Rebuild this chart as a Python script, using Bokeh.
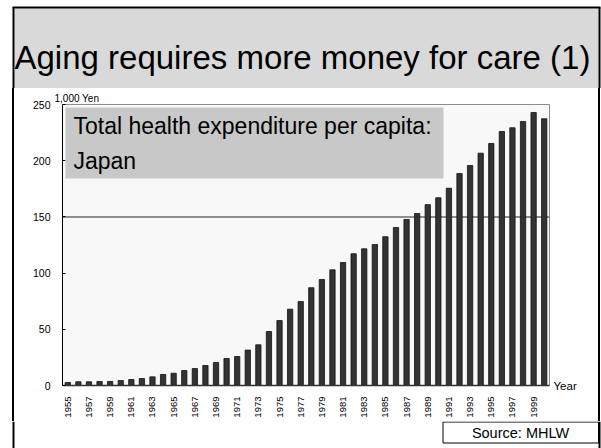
import math
from bokeh.plotting import figure
from bokeh.layouts import column
from bokeh.models import (Range1d, FixedTicker, Label, BoxAnnotation, Span, Title,
                          LinearAxis)
from bokeh.core.properties import value
from bokeh.embed import file_html
from bokeh.resources import INLINE

years = [1955, 1956, 1957, 1958, 1959, 1960, 1961, 1962, 1963, 1964,
         1965, 1966, 1967, 1968, 1969, 1970, 1971, 1972, 1973, 1974,
         1975, 1976, 1977, 1978, 1979, 1980, 1981, 1982, 1983, 1984,
         1985, 1986, 1987, 1988, 1989, 1990, 1991, 1992, 1993, 1994,
         1995, 1996, 1997, 1998, 1999, 2000]
expenditure = [2.7, 3.3, 3.3, 3.6, 3.6, 4.4, 5.3, 6.2, 7.7, 9.8,
               10.9, 13.3, 15.1, 17.8, 20.5, 24.0, 25.8, 31.5, 36.2, 48.0,
               57.8, 67.9, 74.7, 87.0, 94.3, 102.9, 109.4, 117.2, 121.6, 125.4,
               132.4, 140.6, 147.7, 153.0, 160.9, 167.0, 175.5, 188.6, 195.7, 206.7,
               215.3, 226.0, 229.3, 234.9, 242.9, 237.3]
x_tick_years = [1955, 1957, 1959, 1961, 1963, 1965, 1967, 1969, 1971, 1973, 1975,
                1977, 1979, 1981, 1983, 1985, 1987, 1989, 1991, 1993, 1995, 1997, 1999]
y_ticks = [0, 50, 100, 150, 200, 250]
reference_level = 150

title_text = "Aging requires more money for care (1)"
box_line1 = "Total health expenditure per capita:"
box_line2 = "Japan"
y_unit = "1,000 Yen"
x_unit = "Year"
source_text = "Source: MHLW"

FONT = "Liberation Sans"
BORDER = "black"


def blank(w, h):
    f = figure(width=w, height=h, output_backend="svg", toolbar_location=None,
               x_range=Range1d(0, w), y_range=Range1d(h, 0),
               x_axis_type=None, y_axis_type=None, min_border=0,
               frame_align=False)
    f.outline_line_color = None
    f.background_fill_color = "white"
    f.border_fill_color = "white"
    f.xgrid.visible = False
    f.ygrid.visible = False
    return f


# ---- top: title band ----
top = blank(601, 88)
top.quad(left=[14], right=[598], top=[8], bottom=[88], fill_color="#d9d9d9", line_color=None)
top.segment(x0=[12, 13, 599], y0=[7, 7, 7], x1=[600, 13, 599], y1=[7, 88, 88],
            line_color=BORDER, line_width=2)
top.text(x=[14], y=[57], text=[title_text], text_font=value(FONT), text_font_size="33px",
         text_color="black", text_baseline="middle", text_align="left")

# ---- chart ----
side_lines = ("linear-gradient(to right, white 0px, white 12px, black 12px, black 14px, "
              "white 14px, white 598px, black 598px, black 600px, white 600px)")
p = figure(width=601, height=333, output_backend="svg", toolbar_location=None,
           x_range=Range1d(years[0] - 0.5, years[-1] + 0.5),
           y_range=Range1d(0, 250),
           min_border_left=62, min_border_right=52,
           min_border_top=16, min_border_bottom=36,
           frame_align=False,
           styles={"background": side_lines})
p.background_fill_color = "#f8f8f8"
p.border_fill_alpha = 0
p.outline_line_color = "#8c8c8c"
p.outline_line_width = 1
p.xgrid.visible = False
p.ygrid.visible = False

p.add_layout(Span(location=reference_level, dimension="width",
                  line_color="#6a6a6a", line_width=1.5, level="underlay"))
p.vbar(x=years, top=expenditure, width=0.5, fill_color="#333333",
       line_color="#111111", line_width=0.8)

p.add_layout(BoxAnnotation(left=65, right=443, top=19, bottom=90,
                           left_units="canvas", right_units="canvas",
                           top_units="canvas", bottom_units="canvas",
                           fill_color="#c8c8c8", fill_alpha=1, line_color=None))
p.add_layout(Label(x=73, y=37, x_units="canvas", y_units="canvas",
                   text=box_line1, text_font=FONT, text_font_size="23px",
                   text_color="black", text_baseline="middle"))
p.add_layout(Label(x=73, y=72, x_units="canvas", y_units="canvas",
                   text=box_line2, text_font=FONT, text_font_size="23px",
                   text_color="black", text_baseline="middle"))

p.yaxis.ticker = FixedTicker(ticks=y_ticks)
p.yaxis.major_tick_in = 3
p.yaxis.major_tick_out = 0
p.yaxis.minor_tick_line_color = None
p.yaxis.axis_line_color = "black"
p.yaxis.major_tick_line_color = "black"
p.yaxis.major_label_standoff = 12
p.yaxis.major_label_text_font = FONT
p.yaxis.major_label_text_font_size = "10.5px"
p.yaxis.major_label_text_color = "black"

p.xaxis.ticker = FixedTicker(ticks=x_tick_years)
p.xaxis.major_label_orientation = math.pi / 2
p.xaxis.major_tick_in = 0
p.xaxis.major_tick_out = 0
p.xaxis.minor_tick_line_color = None
p.xaxis.axis_line_color = "#333333"
p.xaxis.axis_line_width = 1.5
p.xaxis.major_label_standoff = 11
p.xaxis.major_label_text_font = FONT
p.xaxis.major_label_text_font_size = "9.5px"
p.xaxis.major_label_text_color = "black"

# unit captions
p.add_layout(Title(text=y_unit, align="left", offset=-8, standoff=1,
                   text_font=FONT, text_font_size="10px", text_font_style="normal",
                   text_color="black"), "above")
year_axis = LinearAxis(ticker=FixedTicker(ticks=[0]), major_label_overrides={0: x_unit},
                       axis_line_color=None, major_tick_line_color=None,
                       minor_tick_line_color=None, major_tick_in=0, major_tick_out=0,
                       major_label_standoff=4, major_label_text_font=FONT,
                       major_label_text_font_size="11.5px", major_label_text_color="black")
p.add_layout(year_axis, "right")

# ---- bottom: source ----
bottom = blank(601, 27)
bottom.segment(x0=[13, 599], y0=[0, 0], x1=[13, 599], y1=[27, 27],
               line_color=BORDER, line_width=2)
bottom.quad(left=[442.5], right=[598], top=[0.5], bottom=[21.5],
            fill_color="white", line_color="black", line_width=1)
bottom.text(x=[520], y=[11], text=[source_text], text_font=value(FONT),
            text_font_size="14.5px", text_color="black",
            text_baseline="middle", text_align="center")

layout = column(top, p, bottom, spacing=0)

open("out.html", "w").write(file_html(layout, INLINE))
